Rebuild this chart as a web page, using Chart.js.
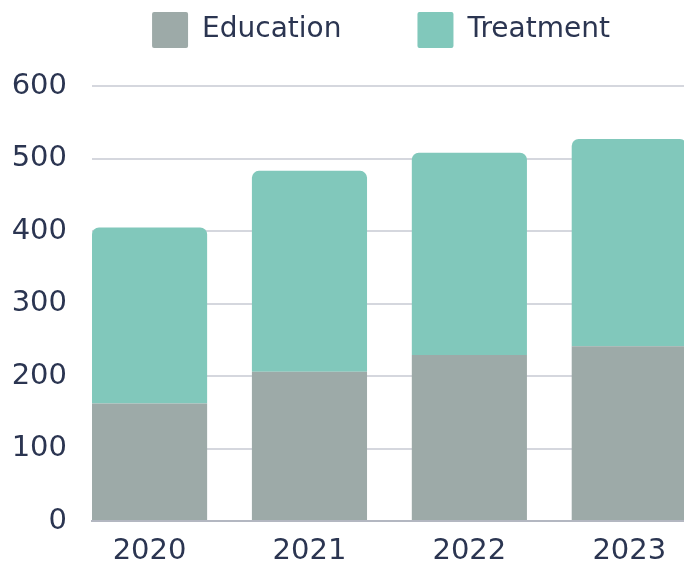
<!DOCTYPE html>
<html>
<head>
<meta charset="utf-8">
<script src="https://cdn.jsdelivr.net/npm/chart.js@4/dist/chart.umd.min.js"></script>
<style>
    html, body { margin: 0; padding: 0; overflow: hidden; background: #fff; }
    #wrap { width: 684px; height: 564px; overflow: hidden; }
</style>
</head>
<body>
<div id="wrap">
    <canvas id="chart" width="762" height="564"></canvas>
</div>
<script>
"use strict";

// ---------- Data ----------

const years = ["2020", "2021", "2022", "2023"];
const education = [162, 206, 229, 241];
const treatment = [243, 277, 279, 286];
const yTicks = [0, 100, 200, 300, 400, 500, 600];

const TEXT = "#2B3551";
const FONT = "'DejaVu Sans', sans-serif";

// legend sits lower than Chart.js wants, push the plot area down a bit
const legendGap = {
    id: "legendGap",
    beforeInit(chart) {
        const fit = chart.legend.fit;
        chart.legend.fit = function () {
            fit.call(this);
            this.height += 28;
        };
    },
};

// ---------- Chart ----------

new Chart(document.getElementById("chart"), {
    type: "bar",
    data: {
        datasets: [
            {
                label: "Education",
                data: education.map((v, i) => ({ x: i, y: v })),
                backgroundColor: "#9DAAA8",
                borderRadius: 0,
            },
            {
                label: "Treatment",
                data: treatment.map((v, i) => ({ x: i, y: v })),
                backgroundColor: "#81C8BB",
                borderRadius: { topLeft: 7, topRight: 7, bottomLeft: 0, bottomRight: 0 },
                borderSkipped: false,
            },
        ],
    },
    options: {
        responsive: false,
        animation: false,
        layout: { padding: { top: -64, left: 0, right: 0, bottom: 0 } },
        plugins: {
            tooltip: { enabled: false },
            legend: {
                position: "top",
                labels: {
                    boxWidth: 36,
                    boxHeight: 36,
                    padding: 76,
                    useBorderRadius: true,
                    borderRadius: 2,
                    color: TEXT,
                    font: { family: FONT, size: 28 },
                },
            },
        },
        scales: {
            x: {
                type: "linear",
                stacked: true,
                offset: false,
                bounds: "data",
                min: -0.36,
                max: 3.83,
                afterBuildTicks: (axis) => {
                    axis.ticks = years.map((_, i) => ({ value: i }));
                },
                afterFit: (axis) => { axis.height = 43; },
                grid: { display: false, drawTicks: false, offset: false },
                border: { display: true, color: "#B3B7C1", width: 2 },
                ticks: {
                    padding: 13,
                    color: TEXT,
                    font: { family: FONT, size: 29 },
                    callback: (v) => years[v] ?? "",
                },
            },
            y: {
                stacked: true,
                min: yTicks[0],
                max: yTicks[yTicks.length - 1],
                afterFit: (axis) => { axis.width = 92; },
                grid: { color: "#D5D7DE", lineWidth: 2, drawTicks: false },
                border: { display: false },
                ticks: {
                    stepSize: 100,
                    padding: 25,
                    color: TEXT,
                    font: { family: FONT, size: 29 },
                },
            },
        },
    },
    plugins: [legendGap],
});
</script>
</body>
</html>
